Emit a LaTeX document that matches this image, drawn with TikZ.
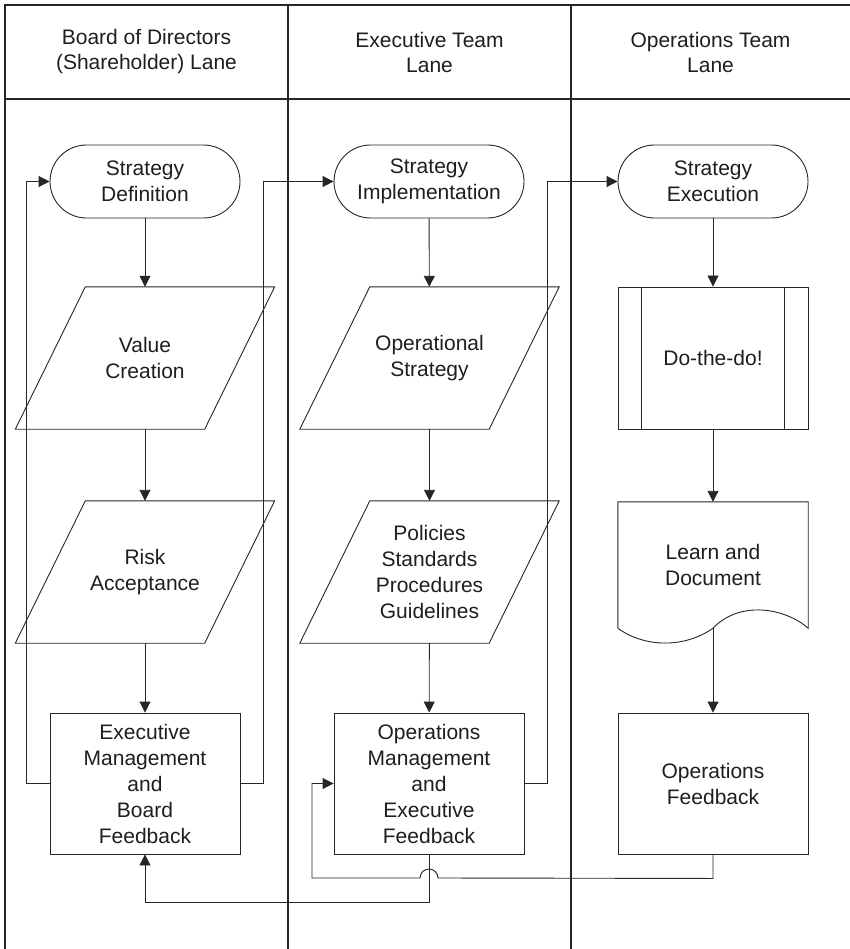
\documentclass[tikz,border=0pt]{standalone}
\usepackage{fontspec}
\setmainfont{Liberation Sans}
\usetikzlibrary{arrows.meta, positioning}
\definecolor{fline}{HTML}{262626}
\definecolor{ftext}{HTML}{1E1E1E}

\begin{document}
\begin{tikzpicture}[x=1pt, y=-1pt,
  every node/.style={font=\fontsize{21}{26}\selectfont, text=ftext, align=center, inner sep=0pt},
  flow/.style={draw=fline, line width=0.9pt},
  term/.style={flow, rounded corners=36.5pt, minimum width=190pt, minimum height=73pt},
  proc/.style={flow, minimum width=190pt, minimum height=141pt},
  iobox/.style={minimum width=189pt, minimum height=142pt},
  lanehead/.style={font=\fontsize{21}{25}\selectfont},
  arr/.style={draw=fline, line width=0.9pt, -{Triangle[length=11pt, width=11pt]}},
  lane/.style={draw=fline, line width=1.2pt}]
\useasboundingbox (0,0) rectangle (850,949);
\draw[lane] (850,5) -- (5,5) -- (5,949);
\draw[lane] (5,99) -- (850,99);
\foreach \x in {288,571}
  \draw[lane] (\x,5) -- (\x,949);
\node[lanehead] (h1) at (146.5,52) {Board of Directors\\(Shareholder) Lane};
\node[lanehead] (h2) at (429.5,52) {Executive Team\\Lane};
\node[lanehead] (h3) at (710.5,52) {Operations Team\\Lane};
\node[term] (sd) at (145,181.5) {Strategy\\Definition};
\node[term] (si) at (429,181.5) {Strategy\\Implementation};
\node[term] (se) at (713,181.5) {Strategy\\Execution};
\node[iobox] (vc) at (145,358) {Value\\Creation};
\node[iobox] (os) at (429.5,358) {Operational\\Strategy};
\node[proc, minimum height=142pt] (dd) at (713,358) {Do-the-do!};
\node[iobox] (ra) at (145,572) {Risk\\Acceptance};
\node[iobox] (psp) at (429.5,572) {Policies\\Standards\\Procedures\\Guidelines};
\node[minimum width=190pt, minimum height=126pt] (ld) at (713,565) {Learn and\\Document};
\node[proc] (em) at (145,783.5) {Executive\\Management\\and\\Board\\Feedback};
\node[proc] (om) at (429,783.5) {Operations\\Management\\and\\Executive\\Feedback};
\node[proc] (of) at (713,783.5) {Operations\\Feedback};
\foreach \n in {vc,ra,os,psp}
  \draw[flow] ([xshift=35pt]\n.north west) -- ([xshift=35pt]\n.north east)
    -- ([xshift=-35pt]\n.south east) -- ([xshift=-35pt]\n.south west) -- cycle;
\draw[flow] ([xshift=24pt]dd.north west) -- ([xshift=24pt]dd.south west);
\draw[flow] ([xshift=-24pt]dd.north east) -- ([xshift=-24pt]dd.south east);
\draw[flow] (ld.south west) -- (ld.north west) -- (ld.north east) -- (ld.south east)
  .. controls (785,608) and (740,600) .. (ld.south)
  .. controls (685,648) and (645,648) .. (ld.south west);
\foreach \a/\b in {sd/vc, vc/ra, ra/em, si/os, os/psp, psp/om, se/dd, dd/ld, ld/of}
  \draw[arr] (\a) -- (\b);
\draw[arr] (em.west) -- ++(-23,0) |- (sd.west);
\draw[arr] (em.east) -- ++(23,0) |- (si.west);
\draw[arr] (om.east) -- ++(23,0) |- (se.west);
\coordinate (hop) at (429,878);
\draw[arr] (of.south) -- ++(0,24) -- ([xshift=9pt]hop)
  arc[start angle=0, end angle=-180, radius=9] -- ++(-108,0) |- (om.west);
\draw[arr] (om.south) -- ++(0,48) -| (em.south);
\end{tikzpicture}
\end{document}
